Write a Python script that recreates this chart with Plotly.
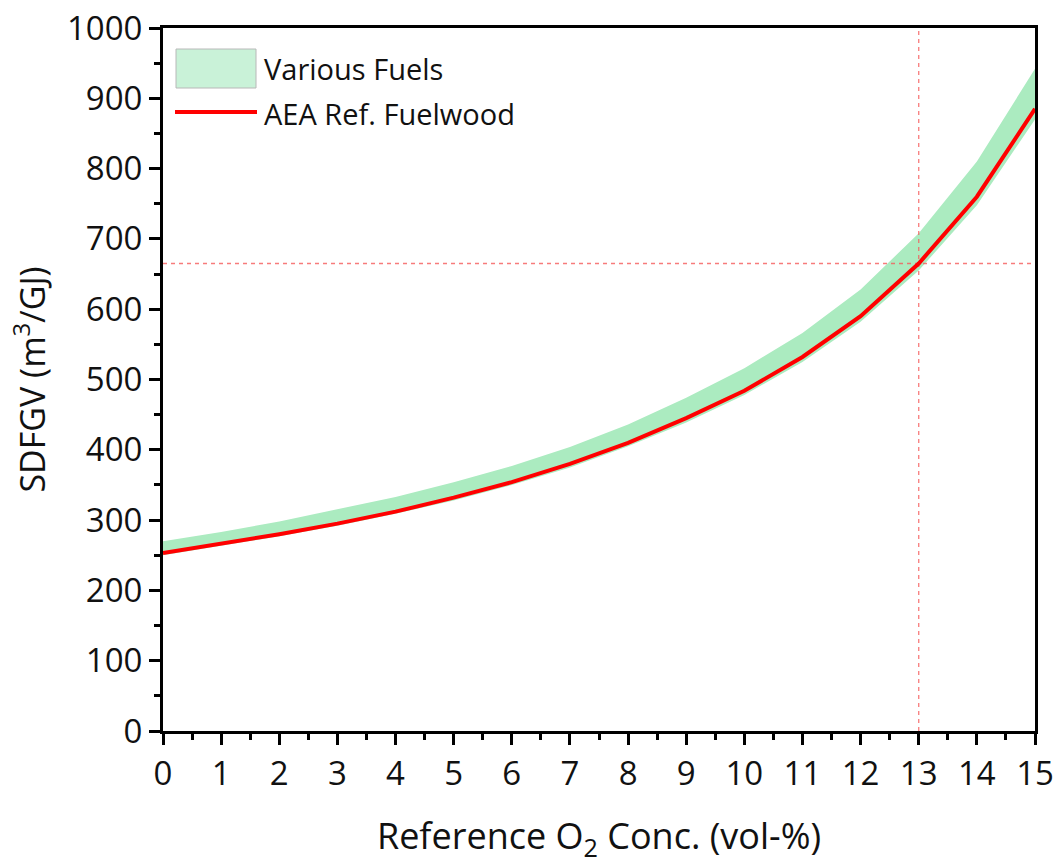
import plotly.graph_objects as go

# Reference O2 concentration (vol-%)
o2_conc = [0, 1, 2, 3, 4, 5, 6, 7, 8, 9, 10, 11, 12, 13, 14, 15]
# Specific dry flue gas volume, AEA reference fuelwood (m3/GJ)
aea_fuelwood = [253, 266, 280, 295, 312, 332, 354, 380, 410, 445, 484, 532, 590, 665, 760, 885]
# Envelope over the various fuels (m3/GJ)
fuels_low = [250, 263, 277, 292, 309, 328, 350, 375, 405, 439, 478, 525, 582, 655, 748, 870]
fuels_high = [270, 283, 298, 315, 333, 354, 377, 404, 436, 474, 516, 566, 628, 708, 810, 942]

# Marked operating point
ref_o2 = 13
ref_sdfgv = aea_fuelwood[o2_conc.index(ref_o2)]

FONT = "Open Sans"
BAND = "#abebc0"
RED = "#ff0000"
GUIDE = "rgba(245,90,90,0.8)"

fig = go.Figure()

fig.add_trace(go.Scatter(
    x=o2_conc, y=fuels_low, mode="lines",
    line=dict(width=0, color=BAND), showlegend=False, hoverinfo="skip"))
fig.add_trace(go.Scatter(
    x=o2_conc, y=fuels_high, mode="lines", fill="tonexty",
    fillcolor=BAND, line=dict(width=0, color=BAND),
    name="Various Fuels", showlegend=False))

# guide lines through the marked point
fig.add_trace(go.Scatter(
    x=[o2_conc[0], o2_conc[-1]], y=[ref_sdfgv, ref_sdfgv], mode="lines",
    line=dict(color=GUIDE, width=1.3, dash="4px,4px"),
    showlegend=False, hoverinfo="skip"))
fig.add_trace(go.Scatter(
    x=[ref_o2, ref_o2], y=[0, 1000], mode="lines",
    line=dict(color=GUIDE, width=1.3, dash="4px,4px"),
    showlegend=False, hoverinfo="skip"))

fig.add_trace(go.Scatter(
    x=o2_conc, y=aea_fuelwood, mode="lines",
    line=dict(color=RED, width=4),
    name="AEA Ref. Fuelwood", showlegend=False))

# legend block drawn in paper space
L, R, T, B = 163, 1035, 28, 731
W, H = 1063, 864
def px(xp):
    return (xp - L) / (R - L)
def py(yp):
    return (B - yp) / (B - T)

fig.add_shape(type="rect", xref="paper", yref="paper",
              x0=px(176), x1=px(256), y0=py(88), y1=py(49),
              fillcolor="#c9f2d8", line=dict(color="#b8b8b8", width=1))
fig.add_shape(type="line", xref="paper", yref="paper",
              x0=px(175), x1=px(257), y0=py(112), y1=py(112),
              line=dict(color=RED, width=4))
for label, yc in [("Various Fuels", 69), ("AEA Ref. Fuelwood", 113)]:
    fig.add_annotation(xref="paper", yref="paper", x=px(262), y=py(yc),
                       text=label, showarrow=False, xanchor="left", yanchor="middle",
                       font=dict(family=FONT, size=29, color="#111111"))

axis_common = dict(
    showgrid=False, zeroline=False, showline=True, linecolor="black", linewidth=3,
    mirror=True, ticks="outside", ticklen=11, tickwidth=3, tickcolor="black",
    tickfont=dict(family=FONT, size=33, color="#111111"), automargin=False,
)

fig.update_xaxes(
    range=[0, 15], dtick=1, tick0=0,
    minor=dict(ticks="outside", ticklen=6, tickwidth=3, tickcolor="black", dtick=0.5),
    title=dict(text="Reference O<sub>2</sub> Conc. (vol-%)",
               font=dict(family=FONT, size=36, color="#111111"), standoff=31),
    **axis_common)
fig.update_yaxes(
    range=[0, 1000], dtick=100, tick0=0,
    minor=dict(ticks="outside", ticklen=6, tickwidth=3, tickcolor="black", dtick=50),
    title=dict(text="SDFGV (m<sup>3</sup>/GJ)",
               font=dict(family=FONT, size=34, color="#111111"), standoff=12),
    **axis_common)

fig.update_layout(
    width=W, height=H,
    margin=dict(l=L, r=W - R, t=T, b=H - B),
    plot_bgcolor="white", paper_bgcolor="white",
    showlegend=False,
)

fig.write_html("out.html")
